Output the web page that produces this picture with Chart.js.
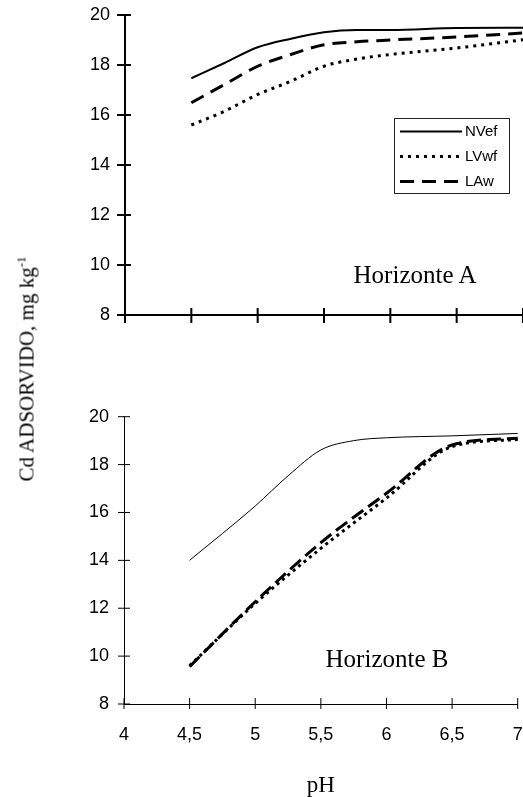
<!doctype html>
<html lang="pt">
<head>
<meta charset="utf-8">
<title>Cd adsorvido x pH</title>
<script src="https://cdn.jsdelivr.net/npm/chart.js@4.4.0/dist/chart.umd.min.js"></script>
<style>
  body { margin: 0; background: #fff; }
  #wrap { position: relative; width: 523px; height: 797px; }
  #wrap canvas { position: absolute; left: 0; }
  #chartA { top: 0; }
  #chartB { top: 400px; }
  .ytitle {
    position: absolute; left: 27px; top: 369px;
    transform: translate(-50%, -50%) rotate(-90deg);
    font: 21px "Liberation Serif", "Times New Roman", serif;
    white-space: nowrap; color: #000;
  }
  .ytitle sup { font-size: 13px; vertical-align: 8px; line-height: 0; }
  .horiz {
    position: absolute; font: 25px "Liberation Serif", "Times New Roman", serif;
    line-height: 25px; white-space: nowrap; transform: translateX(-50%); color: #000;
  }
</style>
</head>
<body>
<div id="wrap">
  <canvas id="chartA" width="523" height="330"></canvas>
  <canvas id="chartB" width="523" height="397"></canvas>
  <div class="ytitle">Cd ADSORVIDO, mg kg<sup>-1</sup></div>
  <div class="horiz" style="left:415px; top:262px">Horizonte A</div>
  <div class="horiz" style="left:387px; top:646px">Horizonte B</div>
</div>

<script>
  // Horizonte A
  const phA = [4.5, 4.75, 5, 5.25, 5.5, 5.75, 6, 6.5, 7];
  const nvefA = [17.47, 18.08, 18.71, 19.05, 19.31, 19.40, 19.40, 19.48, 19.49];
  const lvwfA = [15.6, 16.15, 16.82, 17.35, 17.95, 18.24, 18.42, 18.68, 19.01];
  const lawA = [16.49, 17.22, 17.95, 18.42, 18.81, 18.93, 19.0, 19.12, 19.28];

  // Horizonte B
  const phB_nvef = [4.5, 5, 5.25, 5.5, 5.75, 6, 6.5, 7];
  const nvefB = [14.0, 16.27, 17.53, 18.61, 19.0, 19.12, 19.2, 19.3];
  const phB = [4.5, 5, 5.5, 6, 6.5, 7];
  const lvwfB = [9.6, 12.2, 14.5, 16.6, 18.75, 19.05];
  const lawB = [9.56, 12.27, 14.74, 16.8, 18.82, 19.1];

  const seriesNames = ['NVef', 'LVwf', 'LAw'];

  const sans = "'Liberation Sans', Arial, sans-serif";
  const serif = "'Liberation Serif', 'Times New Roman', serif";

  function pts(xs, ys) {
    return xs.map((x, i) => ({ x: x, y: ys[i] }));
  }

  // tick marks that cross the axis lines
  const crossTicks = {
    id: 'crossTicks',
    afterDraw(chart, args, o) {
      const ctx = chart.ctx;
      const x = chart.scales.x, y = chart.scales.y;
      ctx.save();
      ctx.strokeStyle = '#000';
      ctx.lineWidth = o.width;
      ctx.beginPath();
      x.ticks.forEach(t => {
        const px = x.getPixelForValue(t.value);
        ctx.moveTo(px, x.top - o.xUp);
        ctx.lineTo(px, x.top + o.xDown);
      });
      y.ticks.forEach(t => {
        const py = y.getPixelForValue(t.value);
        ctx.moveTo(y.right - o.yLeft, py);
        ctx.lineTo(y.right + o.yRight, py);
      });
      ctx.stroke();
      ctx.restore();
    }
  };

  // boxed legend inside the plot
  const boxLegend = {
    id: 'boxLegend',
    afterDraw(chart, args, o) {
      if (!o.show) return;
      const ctx = chart.ctx;
      ctx.save();
      ctx.strokeStyle = '#222';
      ctx.lineWidth = 1;
      ctx.strokeRect(o.left + 0.5, o.top + 0.5, o.width, o.height);
      ctx.font = '15px ' + sans;
      ctx.fillStyle = '#000';
      ctx.textBaseline = 'middle';
      chart.data.datasets.forEach((ds, i) => {
        const yy = o.top + 13.5 + i * 25;
        ctx.strokeStyle = '#000';
        ctx.lineWidth = ds.borderWidth;
        ctx.setLineDash(ds.borderDash || []);
        ctx.beginPath();
        ctx.moveTo(o.left + 6, yy);
        ctx.lineTo(o.left + 68, yy);
        ctx.stroke();
        ctx.setLineDash([]);
        ctx.fillText(ds.label, o.left + 71, yy);
      });
      ctx.restore();
    }
  };

  function lineSet(label, data, width, dash) {
    return {
      label: label,
      data: data,
      borderColor: '#000',
      backgroundColor: '#000',
      borderWidth: width,
      borderDash: dash,
      pointRadius: 0,
      fill: false,
      cubicInterpolationMode: 'monotone',
      clip: false
    };
  }

  function makeChart(id, datasets, opts) {
    return new Chart(document.getElementById(id), {
      type: 'line',
      data: { datasets: datasets },
      plugins: [crossTicks, boxLegend],
      options: {
        responsive: false,
        animation: false,
        layout: { padding: opts.padding },
        plugins: {
          legend: { display: false },
          tooltip: { enabled: false },
          crossTicks: opts.ticks,
          boxLegend: opts.legend
        },
        scales: {
          x: {
            type: 'linear',
            min: 4, max: 7,
            afterFit: s => { s.height = opts.xHeight; },
            grid: { display: false, drawTicks: true, tickLength: 20 },
            border: { display: true, color: '#000', width: opts.axisWidth },
            ticks: {
              display: opts.xLabels,
              stepSize: 0.5,
              padding: 0,
              color: '#000',
              font: { family: sans, size: 18 },
              callback: v => String(v).replace('.', ',')
            },
            title: {
              display: opts.xLabels,
              text: 'pH',
              color: '#000',
              padding: 0,
              font: { family: serif, size: 23, lineHeight: 1 }
            }
          },
          y: {
            min: 8, max: 20,
            afterFit: s => { s.width = opts.yWidth; },
            grid: { display: false, drawTicks: true, tickLength: 15 },
            border: { display: true, color: '#000', width: opts.axisWidth },
            ticks: {
              stepSize: 2,
              padding: 0,
              color: '#000',
              font: { family: sans, size: 18 }
            }
          }
        }
      }
    });
  }

  makeChart('chartA', [
    lineSet(seriesNames[0], pts(phA, nvefA), 2, []),
    lineSet(seriesNames[1], pts(phA, lvwfA), 3, [3, 5]),
    lineSet(seriesNames[2], pts(phA, lawA), 3, [14, 8])
  ], {
    padding: { top: 15, right: 0, bottom: 0, left: 0 },
    xHeight: 15,
    yWidth: 125,
    axisWidth: 2,
    xLabels: false,
    ticks: { width: 2, xUp: 7, xDown: 8, yLeft: 8, yRight: 6 },
    legend: { show: true, left: 394, top: 118, width: 115, height: 75 }
  });

  makeChart('chartB', [
    lineSet(seriesNames[0], pts(phB_nvef, nvefB), 1, []),
    lineSet(seriesNames[1], pts(phB, lvwfB), 3, [3, 4]),
    lineSet(seriesNames[2], pts(phB, lawB), 3, [14, 6])
  ], {
    padding: { top: 16.7, right: 5.3, bottom: 0, left: 0 },
    xHeight: 93,
    yWidth: 124,
    axisWidth: 1,
    xLabels: true,
    ticks: { width: 1, xUp: 6, xDown: 5, yLeft: 6, yRight: 6 },
    legend: { show: false }
  });
</script>
</body>
</html>
